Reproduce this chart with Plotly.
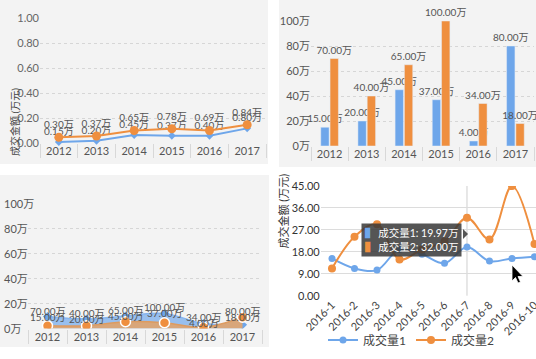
import plotly.graph_objects as go

W, H = 536, 359
def px(x): return x / W
def py(y): return 1 - y / H

FONT = "Lato, 'Noto Sans CJK SC', sans-serif"
BLUE = "#6ea6ea"
ORANGE = "#ef8f3f"

years = ["2012", "2013", "2014", "2015", "2016", "2017"]

# Panel 1 (top-left): line chart, values as drawn (万元)
tl_blue = [0.008, 0.018, 0.064, 0.058, 0.058, 0.117]
tl_orange = [0.045, 0.056, 0.100, 0.114, 0.100, 0.146]
tl_blue_labels = ["0.15万", "0.20万", "0.45万", "0.37万", "0.40万", "0.80万"]
tl_orange_labels = ["0.30万", "0.37万", "0.65万", "0.78万", "0.69万", "0.84万"]

# Panel 2 (top-right): grouped bars (万)
tr_blue = [15, 20, 45, 37, 4, 80]
tr_orange = [70, 40, 65, 100, 34, 18]

# Panel 3 (bottom-left): area chart, values as drawn (万)
bl_blue = [9.5, 7.5, 10, 12, 4, 3]
bl_orange = [2.2, 2.2, 5.4, 4.6, 1, 9]
bl_blue_labels = ["15.00万", "20.00万", "45.00万", "37.00万", "4.00万", "18.00万"]
bl_orange_labels = ["70.00万", "40.00万", "65.00万", "100.00万", "34.00万", "80.00万"]
bl_ticks = [0, 20, 40, 60, 80, 100]

# Panel 4 (bottom-right): smooth lines
months = ["2016-1", "2016-2", "2016-3", "2016-4", "2016-5",
          "2016-6", "2016-7", "2016-8", "2016-9", "2016-10"]
br_blue = [15.3, 11.2, 10.5, 19, 17, 13.3, 19.97, 14.2, 15.3, 16.0]
br_orange = [11.2, 24.2, 29.3, 14.9, 19, 22.2, 32.0, 23.1, 45, 21.2]
br_names = ["成交量1", "成交量2"]
hover_idx = 6

fig = go.Figure()

# ---- Panel 1
fig.add_trace(go.Scatter(x=years, y=tl_blue, mode="lines+markers+text", text=tl_blue_labels,
                         textposition="top center", textfont=dict(size=10, color="#555"),
                         line=dict(color=BLUE, width=2), marker=dict(symbol="diamond", size=6, color=BLUE),
                         xaxis="x", yaxis="y", showlegend=False, cliponaxis=False))
fig.add_trace(go.Scatter(x=years, y=tl_orange, mode="lines+markers+text", text=tl_orange_labels,
                         textposition="top center", textfont=dict(size=10, color="#555"),
                         line=dict(color=ORANGE, width=2), marker=dict(symbol="circle", size=9, color=ORANGE),
                         xaxis="x", yaxis="y", showlegend=False, cliponaxis=False))

# ---- Panel 2
fig.add_trace(go.Bar(x=years, y=tr_blue, marker_color=BLUE, text=[f"{v:.2f}万" for v in tr_blue],
                     textposition="outside", textfont=dict(size=10, color="#555"), constraintext="none",
                     cliponaxis=False, xaxis="x2", yaxis="y2", showlegend=False))
fig.add_trace(go.Bar(x=years, y=tr_orange, marker_color=ORANGE, text=[f"{v:.2f}万" for v in tr_orange],
                     textposition="outside", textfont=dict(size=10, color="#555"), constraintext="none",
                     cliponaxis=False, xaxis="x2", yaxis="y2", showlegend=False))

# ---- Panel 3
fig.add_trace(go.Scatter(x=years, y=bl_blue, mode="lines+markers", fill="tozeroy", fillcolor="#98bfee",
                         line=dict(color="#86b4ee", width=1.5, shape="spline"),
                         marker=dict(symbol="diamond", size=7, color=BLUE),
                         xaxis="x3", yaxis="y3", showlegend=False))
fig.add_trace(go.Scatter(x=years, y=bl_orange, mode="lines+markers", fill="tozeroy", fillcolor="#d8a67a",
                         line=dict(color="#dd9b60", width=1.5, shape="spline"),
                         marker=dict(symbol="circle", size=10, color=ORANGE, line=dict(color="white", width=1.5)),
                         xaxis="x3", yaxis="y3", showlegend=False))

# ---- Panel 4
fig.add_trace(go.Scatter(x=months, y=br_blue, mode="lines+markers", name=br_names[0],
                         line=dict(color=BLUE, width=2, shape="spline"), marker=dict(size=7, color=BLUE),
                         xaxis="x4", yaxis="y4"))
fig.add_trace(go.Scatter(x=months, y=br_orange, mode="lines+markers", name=br_names[1],
                         line=dict(color=ORANGE, width=2, shape="spline"), marker=dict(size=8, color=ORANGE),
                         xaxis="x4", yaxis="y4"))

grid = dict(showgrid=True, gridcolor="#d6d6d6", griddash="dot", gridwidth=1, zeroline=False, automargin=False)
xcat = dict(type="category", range=[-0.5, 5.5], tickson="boundaries", ticks="outside", ticklen=14,
            tickcolor="#d8d8d8", showgrid=False, zeroline=False, showline=False, automargin=False,
            tickfont=dict(size=11, color="#555"), ticklabelstandoff=0)

annotations = []
# bottom-left labels
for i, yr in enumerate(years):
    ymax = max(bl_blue[i], bl_orange[i])
    annotations.append(dict(x=i, y=ymax, xref="x3", yref="y3", text=bl_blue_labels[i], showarrow=False,
                            font=dict(size=10, color="#555"), yanchor="middle"))
    annotations.append(dict(x=i, y=ymax, xref="x3", yref="y3", text=bl_orange_labels[i], showarrow=False,
                            font=dict(size=10, color="#555"), yanchor="middle", yshift=6))
# bottom-left y tick labels (left aligned)
for v in bl_ticks:
    annotations.append(dict(x=px(2), y=v, xref="paper", yref="y3", text=f"{v}万", showarrow=False,
                            xanchor="left", yanchor="middle", font=dict(size=11, color="#555")))

# axis titles
annotations.append(dict(x=px(7), y=py(86), xref="paper", yref="paper", text="成交金额 (万元)", textangle=-90,
                        showarrow=False, font=dict(size=10, color="#444")))
annotations.append(dict(x=px(283), y=py(251), xref="paper", yref="paper", text="成交金额 (万元)", textangle=-90,
                        showarrow=False, font=dict(size=11, color="#333")))

# tooltip
tip = (f"<span style='color:{BLUE}'>▌</span> {br_names[0]}: {br_blue[hover_idx]:.2f}万<br>"
       f"<span style='color:{ORANGE}'>▌</span> {br_names[1]}: {br_orange[hover_idx]:.2f}万")
annotations.append(dict(x=hover_idx, y=py(240), xref="x4", yref="paper", text=tip, showarrow=False,
                        xanchor="right", yanchor="middle", xshift=-5, align="left",
                        bgcolor="rgba(55,55,55,0.85)", borderpad=3, font=dict(size=10.5, color="white")))

shapes = [
    dict(type="rect", xref="paper", yref="paper", x0=0, x1=px(268), y0=py(164), y1=1,
         fillcolor="#f3f3f3", line_width=0, layer="below"),
    dict(type="rect", xref="paper", yref="paper", x0=px(279), x1=1, y0=py(167), y1=1,
         fillcolor="#f3f3f3", line_width=0, layer="below"),
    dict(type="rect", xref="paper", yref="paper", x0=0, x1=px(269), y0=py(347), y1=py(175),
         fillcolor="#f3f3f3", line_width=0, layer="below"),
    dict(type="line", xref="x4", yref="y4 domain", x0=hover_idx, x1=hover_idx, y0=0, y1=1,
         line=dict(color="#cfcfcf", width=1), layer="below"),
    dict(type="path", xref="paper", yref="paper",
         path=f"M {px(463)},{py(229)} L {px(468)},{py(234)} L {px(463)},{py(239)} Z",
         fillcolor="rgba(55,55,55,0.85)", line_width=0),
    dict(type="path", xref="paper", yref="paper",
         path=(f"M {px(512)},{py(265)} L {px(512)},{py(281)} L {px(515.5)},{py(277.5)} "
               f"L {px(518)},{py(283)} L {px(520.5)},{py(282)} L {px(518)},{py(276.5)} L {px(523)},{py(276.5)} Z"),
         fillcolor="black", line=dict(color="white", width=0.8)),
]

fig.update_layout(
    width=W, height=H, margin=dict(l=0, r=0, t=0, b=0, autoexpand=False),
    paper_bgcolor="white", plot_bgcolor="rgba(0,0,0,0)",
    font=dict(family=FONT, size=11, color="#555"),
    barmode="group", bargap=0.5, bargroupgap=0.1,
    hovermode=False,
    xaxis=dict(domain=[px(40), px(266)], anchor="y", **xcat),
    yaxis=dict(domain=[py(143), py(18)], anchor="x", range=[0, 1], dtick=0.2, tickformat=".2f",
               tickfont=dict(size=11, color="#666"), **grid),
    xaxis2=dict(domain=[px(311), px(534)], anchor="y2", **xcat),
    yaxis2=dict(domain=[py(146), py(21)], anchor="x2", range=[0, 100], dtick=20, ticksuffix="万",
                tickfont=dict(size=11, color="#555"), **grid),
    xaxis3=dict(domain=[px(28), px(262)], anchor="y3", **xcat),
    yaxis3=dict(domain=[py(328.5), py(203)], anchor="x3", range=[0, 100], dtick=20,
                showticklabels=False, **grid),
    xaxis4=dict(domain=[px(320.75), 1], anchor="y4", type="category", range=[-0.5, 9.067], tickangle=-45,
                showgrid=False, zeroline=False, showline=False, ticks="", automargin=False,
                tickfont=dict(size=11, color="#444")),
    yaxis4=dict(domain=[py(295.7), py(186)], anchor="x4", range=[0, 45], dtick=9, tickformat=".2f",
                showgrid=True, gridcolor="#dcdcdc", zeroline=False, automargin=False,
                tickfont=dict(size=11, color="#333")),
    legend=dict(orientation="h", x=px(411), xanchor="center", y=py(340), yanchor="middle",
                font=dict(size=12, color="#444"), bgcolor="rgba(0,0,0,0)"),
    annotations=annotations, shapes=shapes,
)

fig.write_html("out.html", config={"displayModeBar": False},
               post_script="document.body.style.margin='0px';document.body.style.overflow='hidden';")
